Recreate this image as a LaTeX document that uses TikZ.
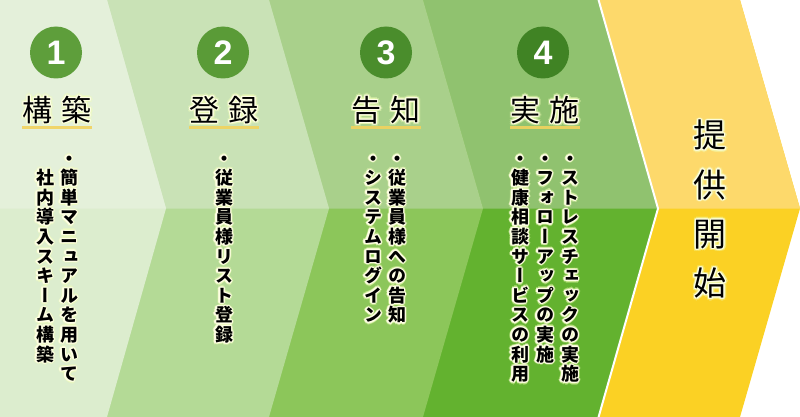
\documentclass[tikz,border=0pt]{standalone}
\usepackage{fontspec}
\setmainfont{Noto Sans CJK JP}
\newfontfamily\jpv[RawFeature=+vert]{Noto Sans CJK JP}
\newfontfamily\digitf{Liberation Sans}
\usetikzlibrary{calc}

\definecolor{pAt}{HTML}{E4F0DA}\definecolor{pAb}{HTML}{DCEDCE}
\definecolor{pBt}{HTML}{C9E2B6}\definecolor{pBb}{HTML}{B4DA96}
\definecolor{pCt}{HTML}{A9D08B}\definecolor{pCb}{HTML}{8CC65A}
\definecolor{pDt}{HTML}{90C26F}\definecolor{pDb}{HTML}{63B22F}
\definecolor{pEt}{HTML}{FDD96B}\definecolor{pEb}{HTML}{FBD124}
\definecolor{cA}{HTML}{5E9E3B}\definecolor{cB}{HTML}{5A9B37}
\definecolor{cC}{HTML}{4A8D2C}\definecolor{cD}{HTML}{408324}
\definecolor{ulc}{HTML}{F2D35E}
\definecolor{glowin}{HTML}{FFFFE6}
\definecolor{glowout}{HTML}{F2FFB8}

\newdimen\vpitch
\newcommand\vcell[1]{\hbox to 1.1em{\hss\vrule width 0pt height \dimexpr 0.5\vpitch+0.38em\relax depth \dimexpr 0.5\vpitch-0.38em\relax\smash{#1}\hss}}
\def\vcolA#1{\ifx#1\relax\else\vcell{#1}\expandafter\vcolA\fi}
\newcommand\vcol[2][19.6pt]{\vpitch=#1\relax\vbox{\offinterlineskip\vcolA#2\relax}}
\newcommand\emc[1]{\vrule width 0pt height 0.88em depth 0.12em\smash{#1}}
\newcommand\digit[1]{\vrule width 0pt height 0.716em depth 0pt\smash{#1}}

\newcommand\glownode[4]{%
  \foreach \a in {0,45,...,315}{\node[#3,text=glowout,text opacity=0.45] at ($(#2)+(\a:2.5)$) {#4};}%
  \foreach \a in {0,30,...,330}{\node[#3,text=glowin,text opacity=0.8] at ($(#2)+(\a:1.2)$) {#4};}%
  \node[#3] (#1) at (#2) {#4};}

\tikzset{
  numc/.style={circle, minimum size=52pt, inner sep=0pt, text=white,
    font=\digitf\bfseries\fontsize{34pt}{34pt}\selectfont},
  ttl/.style={inner sep=0pt, anchor=center, text=black,
    font=\jpv\fontsize{30pt}{30pt}\selectfont},
  vtext/.style={inner sep=0pt, anchor=north, text=black,
    font=\jpv\bfseries\fontsize{18pt}{19.6pt}\selectfont},
  bigv/.style={inner sep=0pt, anchor=north, text=black,
    font=\jpv\fontsize{33pt}{33pt}\selectfont},
  uline/.style={line width=3pt, color=ulc, opacity=0.9}
}

\begin{document}
\begin{tikzpicture}[x=1pt,y=-1pt]
\useasboundingbox (0,0) rectangle (800,417);
\fill[white] (0,0) rectangle (800,417);
% panels drawn right to left (each extends to the left edge)
\fill[pEb] (0,0) -- (740,0) -- (800,208.5) -- (740,417) -- (0,417) -- cycle;
\fill[pEt] (0,0) -- (740,0) -- (800,208.5) -- (0,208.5) -- cycle;
\fill[pDb] (0,0) -- (598,0) -- (658,208.5) -- (598,417) -- (0,417) -- cycle;
\fill[pDt] (0,0) -- (598,0) -- (658,208.5) -- (0,208.5) -- cycle;
\fill[pCb] (0,0) -- (423,0) -- (483,208.5) -- (423,417) -- (0,417) -- cycle;
\fill[pCt] (0,0) -- (423,0) -- (483,208.5) -- (0,208.5) -- cycle;
\fill[pBb] (0,0) -- (269,0) -- (329,208.5) -- (269,417) -- (0,417) -- cycle;
\fill[pBt] (0,0) -- (269,0) -- (329,208.5) -- (0,208.5) -- cycle;
\fill[pAb] (0,0) -- (107,0) -- (166,208.5) -- (107,417) -- (0,417) -- cycle;
\fill[pAt] (0,0) -- (107,0) -- (166,208.5) -- (0,208.5) -- cycle;
\draw[white, line width=2pt] (598,-2) -- (658,208.5) -- (598,419);

% number circles
\node[numc, fill=cA] (n1) at (56,52.5) {\digit{1}};
\node[numc, fill=cB] (n2) at (223,52.5) {\digit{2}};
\node[numc, fill=cC] (n3) at (386,52.5) {\digit{3}};
\node[numc, fill=cD] (n4) at (543,52.5) {\digit{4}};

% underlines
\path (57,110) node[ttl, opacity=0] (uA) {\emc{構\hspace{9pt}築}};
\path (224,110) node[ttl, opacity=0] (uB) {\emc{登\hspace{9pt}録}};
\path (386,110) node[ttl, opacity=0] (uC) {\emc{告\hspace{9pt}知}};
\path (545,110) node[ttl, opacity=0] (uD) {\emc{実\hspace{9pt}施}};
\draw[uline] ([yshift=-2pt]uA.south west) -- ([yshift=-2pt]uA.south east);
\draw[uline] ([yshift=-2pt]uB.south west) -- ([yshift=-2pt]uB.south east);
\draw[uline] ([yshift=-2pt]uC.south west) -- ([yshift=-2pt]uC.south east);
\draw[uline] ([yshift=-2pt]uD.south west) -- ([yshift=-2pt]uD.south east);

% titles
\glownode{tA}{57,110}{ttl}{\emc{構\hspace{9pt}築}}
\glownode{tB}{224,110}{ttl}{\emc{登\hspace{9pt}録}}
\glownode{tC}{386,110}{ttl}{\emc{告\hspace{9pt}知}}
\glownode{tD}{545,110}{ttl}{\emc{実\hspace{9pt}施}}

% vertical texts
\glownode{vA1}{69,148.2}{vtext}{\vcol{・簡単マニュアルを用いて}}
\glownode{vA2}{45,167.8}{vtext}{\vcol{社内導入スキーム構築}}
\glownode{vB1}{224,148.2}{vtext}{\vcol{・従業員様リスト登録}}
\glownode{vC1}{397,148.2}{vtext}{\vcol{・従業員様への告知}}
\glownode{vC2}{373,148.2}{vtext}{\vcol{・システムログイン}}
\glownode{vD1}{570,148.2}{vtext}{\vcol{・ストレスチェックの実施}}
\glownode{vD2}{545,148.2}{vtext}{\vcol{・フォローアップの実施}}
\glownode{vD3}{520,148.2}{vtext}{\vcol{・健康相談サービスの利用}}

% final step
\glownode{vE}{710,110.4}{bigv}{\vcol[49.3pt]{提供開始}}
\end{tikzpicture}
\end{document}
